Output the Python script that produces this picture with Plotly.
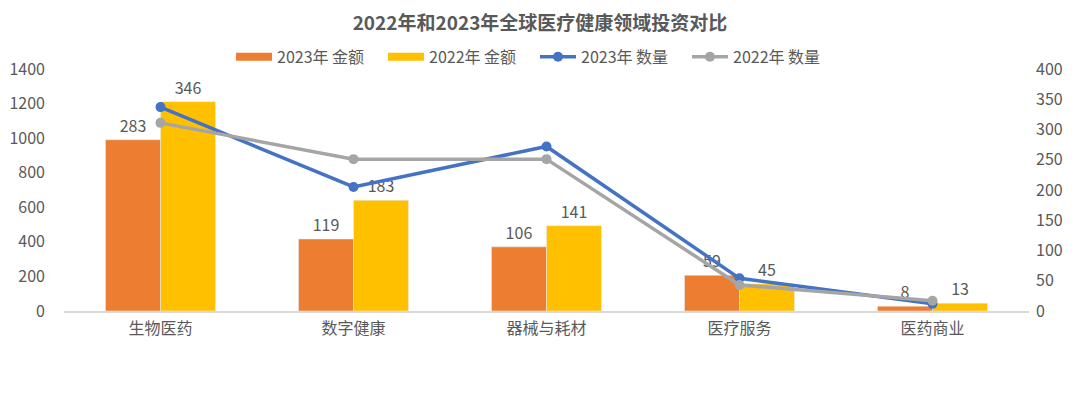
import plotly.graph_objects as go

categories = ["生物医药", "数字健康", "器械与耗材", "医疗服务", "医药商业"]
amount_2023 = [283, 119, 106, 59, 8]
amount_2022 = [346, 183, 141, 45, 13]
count_2023 = [337, 205, 272, 54, 12]
count_2022 = [311, 251, 251, 43, 17]
left_ticks = [0, 200, 400, 600, 800, 1000, 1200, 1400]
right_ticks = [0, 50, 100, 150, 200, 250, 300, 350, 400]

FONT = "Noto Sans CJK SC"
GRAY = "#595959"
ORANGE = "#ED7D31"
YELLOW = "#FFC000"
BLUE = "#4472C4"
LGRAY = "#A5A5A5"

fig = go.Figure()

# placeholder trace so the left axis is drawn
fig.add_trace(go.Scatter(x=categories, y=[None] * len(categories), yaxis="y",
                         showlegend=False, hoverinfo="skip"))

fig.add_trace(go.Bar(name="2023年 金额", x=categories, y=amount_2023, yaxis="y2",
                     marker_color=ORANGE, text=amount_2023, textposition="outside",
                     textfont=dict(size=16, color=GRAY, family=FONT), cliponaxis=False,
                     showlegend=False))
fig.add_trace(go.Bar(name="2022年 金额", x=categories, y=amount_2022, yaxis="y2",
                     marker_color=YELLOW, text=amount_2022, textposition="outside",
                     textfont=dict(size=16, color=GRAY, family=FONT), cliponaxis=False,
                     showlegend=False))

# legend-only entries for the bars (wide rectangle swatches)
for nm, col in [("2023年 金额", ORANGE), ("2022年 金额", YELLOW)]:
    fig.add_trace(go.Scatter(name=nm, x=[categories[0]], y=[None], yaxis="y2",
                             mode="lines", line=dict(color=col, width=8),
                             hoverinfo="skip"))

fig.add_trace(go.Scatter(name="2023年 数量", x=categories, y=count_2023, yaxis="y2",
                         mode="lines+markers", line=dict(color=BLUE, width=3.5),
                         marker=dict(size=10, color=BLUE), cliponaxis=False))
fig.add_trace(go.Scatter(name="2022年 数量", x=categories, y=count_2022, yaxis="y2",
                         mode="lines+markers", line=dict(color=LGRAY, width=3.5),
                         marker=dict(size=10, color=LGRAY), cliponaxis=False))

# page has an 8px body margin: compensate so the chart lands where the reference has it
fig.update_layout(
    width=1072, height=385,
    margin=dict(l=56, r=51, t=61, b=82, autoexpand=False),
    paper_bgcolor="white", plot_bgcolor="white",
    font=dict(family=FONT, color=GRAY, size=15),
    title=dict(text="<b>2022年和2023年全球医疗健康领域投资对比</b>", x=532 / 1072, xanchor="center",
               xref="container", yref="container",
               y=1 - 15 / 385, yanchor="middle", font=dict(size=19, color=GRAY, family=FONT)),
    barmode="group", bargap=0.43, bargroupgap=0,
    legend=dict(orientation="h", x=223 / 1072, xanchor="left", xref="container",
                y=0.98, yanchor="bottom",
                font=dict(size=16, color=GRAY, family=FONT), traceorder="normal",
                itemwidth=36, tracegroupgap=0, entrywidth=101, entrywidthmode="pixels"),
    xaxis=dict(showgrid=False, showline=True, linecolor="#D9D9D9", linewidth=1.5,
               ticks="", tickfont=dict(size=16, color=GRAY), ticklabelstandoff=2),
    yaxis=dict(range=[0, 1400], tickvals=left_ticks, showgrid=False, zeroline=False,
               showline=False, tickfont=dict(size=16, color=GRAY), ticklabelstandoff=18),
    yaxis2=dict(range=[0, 400], tickvals=right_ticks, overlaying="y", side="right",
                showgrid=False, zeroline=False, showline=False,
                tickfont=dict(size=16, color=GRAY), ticklabelstandoff=6),
)

fig.write_html("out.html")
